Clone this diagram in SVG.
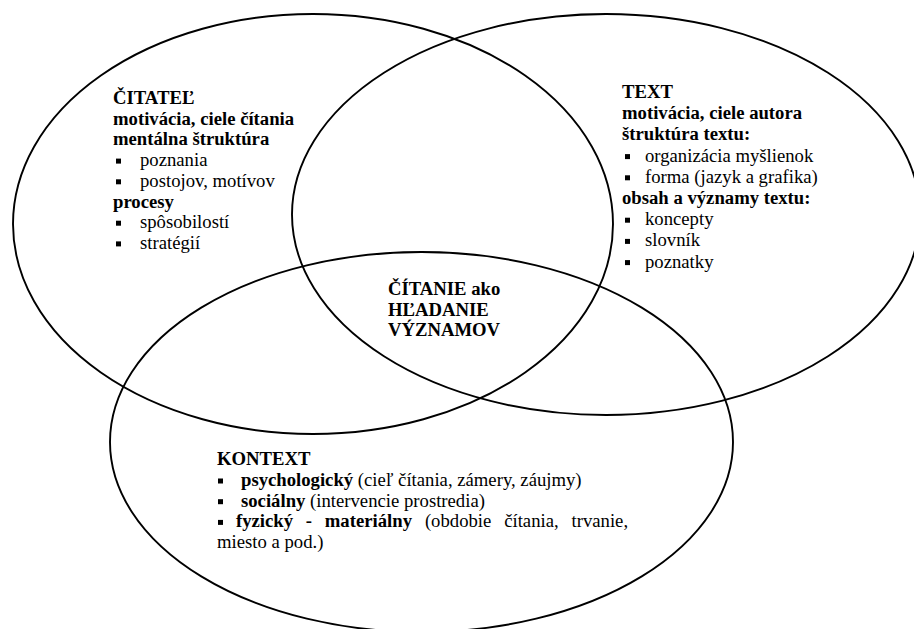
<svg xmlns="http://www.w3.org/2000/svg" width="914" height="629" viewBox="0 0 914 629">
<style>
.e{fill:none;stroke:#000;stroke-width:1.9}
.t{font-family:'Liberation Serif','Times New Roman',serif;font-size:18.7px;fill:#000}
.b{font-weight:bold}
.bl{fill:#000}
</style>
<rect width="914" height="629" fill="#fff"/>
<g id="citatel" class="t">
<ellipse class="e" cx="313" cy="224" rx="300" ry="210"/>
<text class="b" x="113" y="104">ČITATEĽ</text>
<text class="b" x="113" y="124.7">motivácia, ciele čítania</text>
<text class="b" x="113" y="145.4">mentálna štruktúra</text>
<rect class="bl" x="116" y="158.6" width="5" height="5"/>
<text x="140" y="166.1">poznania</text>
<rect class="bl" x="116" y="179.3" width="5" height="5"/>
<text x="140" y="186.8">postojov, motívov</text>
<text class="b" x="113" y="207.5">procesy</text>
<rect class="bl" x="116" y="220.7" width="5" height="5"/>
<text x="140" y="228.2">spôsobilostí</text>
<rect class="bl" x="116" y="241.4" width="5" height="5"/>
<text x="140" y="248.9">stratégií</text>
</g>
<g id="text" class="t">
<ellipse class="e" cx="606" cy="214.5" rx="314" ry="200.5"/>
<text class="b" x="622" y="98">TEXT</text>
<text class="b" x="622" y="119.2">motivácia, ciele autora</text>
<text class="b" x="622" y="140.4">štruktúra textu:</text>
<rect class="bl" x="625" y="154.1" width="5" height="5"/>
<text x="645" y="161.6">organizácia myšlienok</text>
<rect class="bl" x="625" y="175.3" width="5" height="5"/>
<text x="645" y="182.8">forma (jazyk a grafika)</text>
<text class="b" x="622" y="204">obsah a významy textu:</text>
<rect class="bl" x="625" y="217.7" width="5" height="5"/>
<text x="645" y="225.2">koncepty</text>
<rect class="bl" x="625" y="238.9" width="5" height="5"/>
<text x="645" y="246.4">slovník</text>
<rect class="bl" x="625" y="260.1" width="5" height="5"/>
<text x="645" y="267.6">poznatky</text>
</g>
<g id="kontext" class="t">
<ellipse class="e" cx="421.5" cy="442" rx="311.5" ry="190"/>
<text class="b" x="217" y="465">KONTEXT</text>
<rect class="bl" x="218" y="478.5" width="5" height="5"/>
<text x="241" y="486"><tspan class="b">psychologický</tspan> (cieľ čítania, zámery, záujmy)</text>
<rect class="bl" x="218" y="499.2" width="5" height="5"/>
<text x="241" y="506.7"><tspan class="b">sociálny</tspan> (intervencie prostredia)</text>
<rect class="bl" x="218" y="519.9" width="5" height="5"/>
<text y="527.4"><tspan class="b" x="236">fyzický</tspan><tspan class="b" x="305.8">-</tspan><tspan class="b" x="324.8">materiálny</tspan><tspan x="424.9">(obdobie</tspan><tspan x="504.2">čítania,</tspan><tspan x="571.5">trvanie,</tspan></text>
<text x="217" y="548.1">miesto a pod.)</text>
</g>
<g id="center" class="t">
<text class="b" x="388" y="295">ČÍTANIE ako</text>
<text class="b" x="388" y="315.5">HĽADANIE</text>
<text class="b" x="388" y="336">VÝZNAMOV</text>
</g>
<g id="connectors"/>
</svg>
